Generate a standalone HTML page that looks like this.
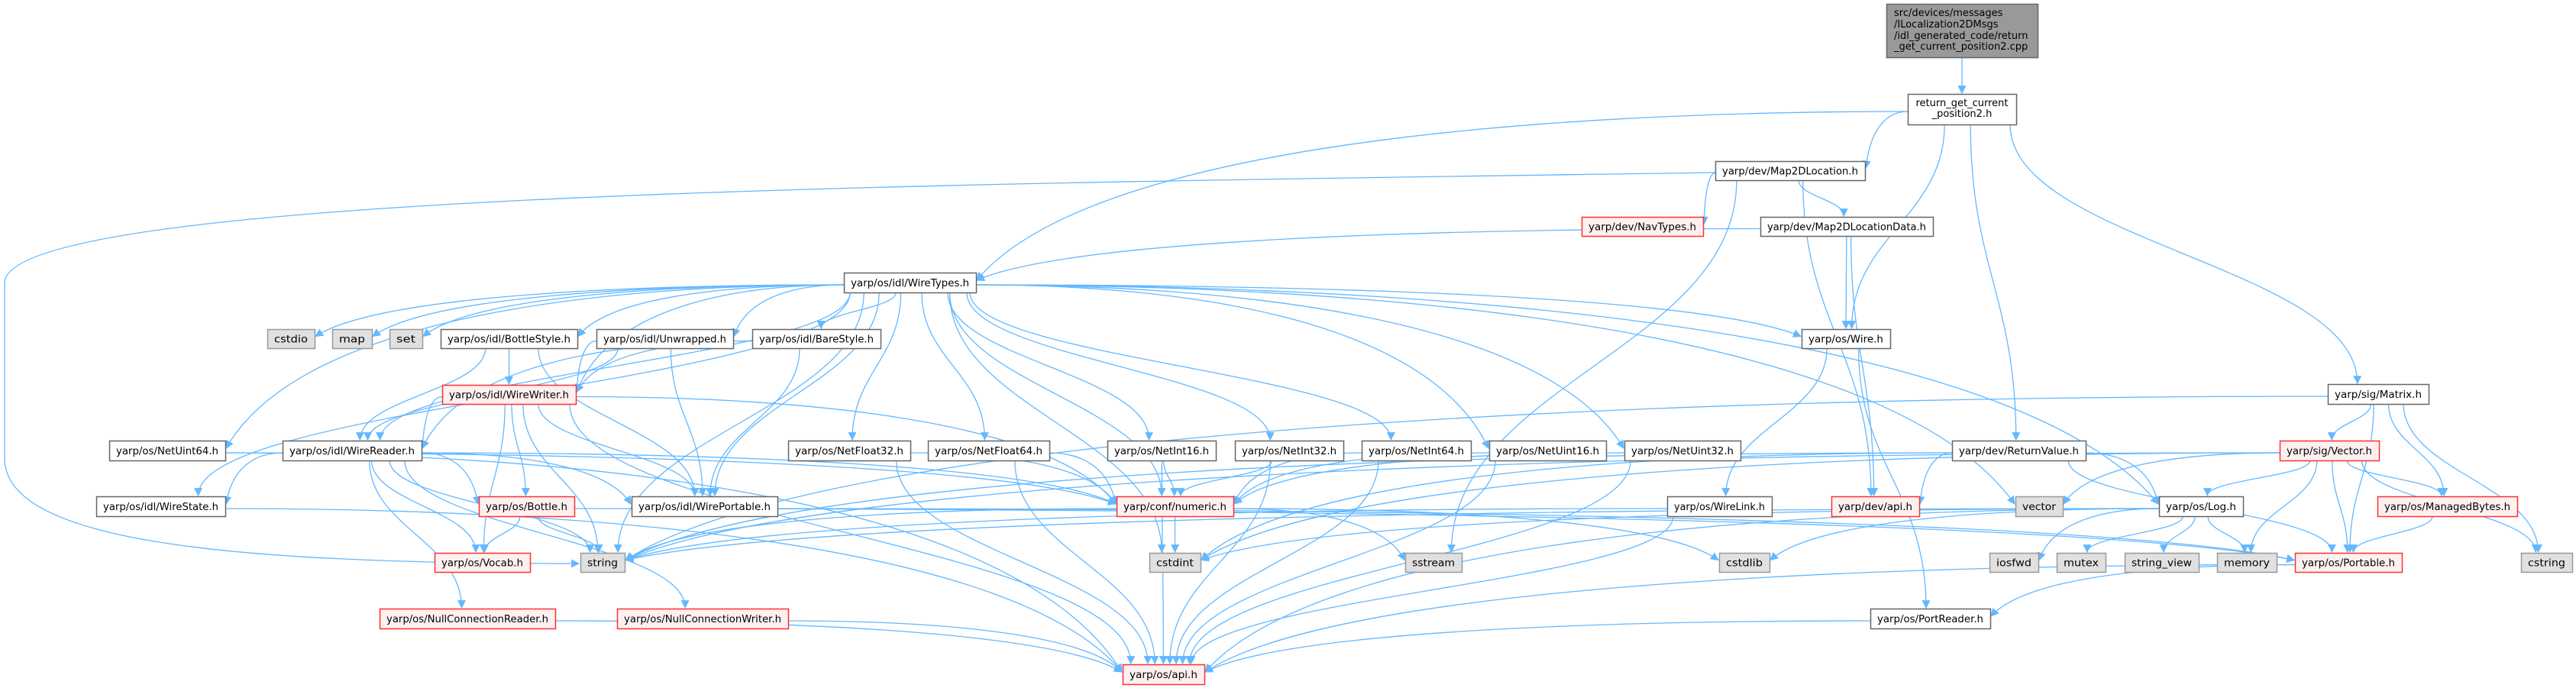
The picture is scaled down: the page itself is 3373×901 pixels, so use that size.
<!DOCTYPE html>
<html><head><meta charset="utf-8"><style>
html,body{margin:0;padding:0;background:#fff;}
svg{display:block;}
text{font-family:"DejaVu Sans","Liberation Sans",sans-serif;font-size:13px;fill:#000;}
</style></head><body>
<svg id="g" xmlns="http://www.w3.org/2000/svg" width="3373" height="901" viewBox="0 0 3373 901">
<defs><marker id="ah" viewBox="0 0 10 10" refX="9" refY="5" markerWidth="11" markerHeight="11" markerUnits="userSpaceOnUse" orient="auto"><path d="M0,0 L10,5 L0,10 z" fill="#63b8ff"/></marker></defs>
<g id="edges" fill="none" stroke="#63b8ff" stroke-width="1.3"></g>
<g id="nodes"></g>
</svg>
<div style="display:none" id="labels">
<span>src/devices/messages</span><span>/ILocalization2DMsgs</span><span>/idl_generated_code/return</span><span>_get_current_position2.cpp</span>
</div>
<script>
var N={
src:[2470,5,2668,75,'s',null],
ret:[2498,123,2640,163,'n',null],
m2d:[2246,211,2442,236,'n','yarp/dev/Map2DLocation.h'],
nav:[2071,284,2230,309,'r','yarp/dev/NavTypes.h'],
m2dd:[2305,284,2531,309,'n','yarp/dev/Map2DLocationData.h'],
wt:[1105,357,1278,383,'n','yarp/os/idl/WireTypes.h'],
cstdio:[350,431,412,456,'g','cstdio'],
map:[435,431,487,456,'g','map'],
set:[510,431,553,456,'g','set'],
bs:[577,431,756,456,'n','yarp/os/idl/BottleStyle.h'],
un:[781,431,960,456,'n','yarp/os/idl/Unwrapped.h'],
bare:[985,431,1153,456,'n','yarp/os/idl/BareStyle.h'],
wire:[2359,431,2475,456,'n','yarp/os/Wire.h'],
mat:[3048,503,3180,529,'n','yarp/sig/Matrix.h'],
ww:[579,504,754,529,'r','yarp/os/idl/WireWriter.h'],
nu64:[143,577,295,603,'n','yarp/os/NetUint64.h'],
wr:[370,577,552,603,'n','yarp/os/idl/WireReader.h'],
nf32:[1032,577,1192,603,'n','yarp/os/NetFloat32.h'],
nf64:[1215,577,1374,603,'n','yarp/os/NetFloat64.h'],
ni16:[1450,577,1592,603,'n','yarp/os/NetInt16.h'],
ni32:[1617,577,1759,603,'n','yarp/os/NetInt32.h'],
ni64:[1783,577,1926,603,'n','yarp/os/NetInt64.h'],
nu16:[1950,577,2103,603,'n','yarp/os/NetUint16.h'],
nu32:[2127,577,2279,603,'n','yarp/os/NetUint32.h'],
rv:[2556,577,2731,603,'n','yarp/dev/ReturnValue.h'],
vec:[2985,577,3115,603,'r','yarp/sig/Vector.h'],
ws:[126,650,295,676,'n','yarp/os/idl/WireState.h'],
bot:[627,650,752,676,'r','yarp/os/Bottle.h'],
wp:[827,650,1018,676,'n','yarp/os/idl/WirePortable.h'],
num:[1462,650,1615,676,'r','yarp/conf/numeric.h'],
wl:[2183,650,2320,676,'n','yarp/os/WireLink.h'],
dapi:[2398,650,2513,676,'r','yarp/dev/api.h'],
vector:[2639,650,2701,676,'g','vector'],
log:[2827,650,2937,676,'n','yarp/os/Log.h'],
mb:[3113,650,3296,676,'r','yarp/os/ManagedBytes.h'],
vocab:[569,724,694,749,'r','yarp/os/Vocab.h'],
string:[760,724,818,749,'g','string'],
cstdint:[1505,724,1572,749,'g','cstdint'],
sstream:[1840,724,1914,749,'g','sstream'],
cstdlib:[2251,724,2317,749,'g','cstdlib'],
iosfwd:[2605,724,2669,749,'g','iosfwd'],
mutex:[2693,724,2757,749,'g','mutex'],
sv:[2782,724,2879,749,'g','string_view'],
memory:[2903,724,2981,749,'g','memory'],
port:[3005,724,3145,749,'r','yarp/os/Portable.h'],
cstring:[3301,724,3368,749,'g','cstring'],
ncr:[497,797,727,823,'r','yarp/os/NullConnectionReader.h'],
ncw:[808,797,1032,823,'r','yarp/os/NullConnectionWriter.h'],
pr:[2449,797,2606,823,'n','yarp/os/PortReader.h'],
api:[1470,870,1577,896,'r','yarp/os/api.h']
};
var E="src>ret ret>m2d ret>wt ret>wire ret>rv ret>mat m2d>nav m2d>m2dd m2d>dapi m2d>sstream m2dd>wt m2dd>wire m2dd>dapi "+
"wt>cstdio wt>map wt>set wt>bs wt>un wt>bare wt>ww wt>wr wt>nu64 wt>ws wt>string wt>wp wt>nf32 wt>nf64 wt>ni16 wt>ni32 wt>ni64 wt>nu16 wt>nu32 wt>cstdint wt>vector wt>wire wt>log wt>num "+
"bs>ww bs>wr bs>wp un>ww un>wr un>wp bare>ww bare>wr bare>wp ww>wr ww>bot ww>vocab ww>string ww>wp ww>num ww>api "+
"wr>ws wr>bot wr>vocab wr>string wr>wp wr>num wr>ncr wr>ncw nu64>num nu64>api ws>api bot>vocab bot>string bot>port wp>port ncr>api ncw>api "+
"nf32>num nf32>api nf64>num nf64>api ni16>num ni16>api ni32>num ni32>api ni64>num ni64>api nu16>num nu16>api nu32>num nu32>api "+
"num>cstdint num>sstream num>cstdlib num>string wire>wl wire>pr wl>api wl>string rv>dapi rv>string rv>log rv>port rv>cstdint "+
"mat>vec mat>mb mat>port mat>cstring mat>string vec>vector vec>log vec>mb vec>port vec>memory vec>cstring vec>string vec>cstdint "+
"log>api log>iosfwd log>mutex log>sv log>memory log>string log>cstdint log>cstdlib mb>port port>pr port>api pr>api";
var NS="http://www.w3.org/2000/svg";
var ng=document.getElementById('nodes'),eg=document.getElementById('edges');
function el(t,a,p){var e=document.createElementNS(NS,t);for(var k in a)e.setAttribute(k,a[k]);p.appendChild(e);return e;}
var sty={n:['#ffffff','#666666'],r:['#fff0f0','#ff3030'],g:['#e0e0e0','#999999'],s:['#999999','#666666']};
for(var k in N){var d=N[k],s=sty[d[4]];
el('rect',{x:d[0]+.5,y:d[1]+.5,width:d[2]-d[0],height:d[3]-d[1],fill:s[0],stroke:s[1],'stroke-width':1.5},ng);
if(d[5]){var t=el('text',{x:(d[0]+d[2])/2,y:(d[1]+d[3])/2+5,'text-anchor':'middle',textLength:(d[2]-d[0]-18),lengthAdjust:'spacingAndGlyphs'},ng);t.textContent=d[5];}}
var L=[['ret',['return_get_current','_position2.h'],[139,153]],['src',['src/devices/messages','/ILocalization2DMsgs','/idl_generated_code/return','_get_current_position2.cpp'],[21,36,51,65]]];
L.forEach(function(q){var d=N[q[0]];q[1].forEach(function(s,i){var t=el('text',{x:q[0]=='src'?d[0]+10:(d[0]+d[2])/2,y:q[2][i],'text-anchor':q[0]=='src'?'start':'middle'},ng);t.textContent=s;});});
function cx(d){return (d[0]+d[2])/2;} function cy(d){return (d[1]+d[3])/2;}
E.split(' ').forEach(function(p){var a=p.split('>'),s=N[a[0]],t=N[a[1]];var path;
 var dx=cx(t)-cx(s),dy=t[1]-s[3];
 if(dy>8 && Math.abs(dx)<4*dy){
  var sx=cx(s)+Math.max(-(s[2]-s[0])/2+8,Math.min((s[2]-s[0])/2-8,dx*0.15));
  var tx=cx(t)-Math.max(-(t[2]-t[0])/2+8,Math.min((t[2]-t[0])/2-8,dx*0.05));
  var sy=s[3],ty=t[1]-1,h=(ty-sy)*0.45;
  path='M'+sx+','+sy+' C'+sx+','+(sy+h)+' '+tx+','+(ty-h)+' '+tx+','+ty;
 } else {
  var dir=dx<0?-1:1;
  var sx=dir<0?s[0]:s[2], sy=cy(s)+3;
  var tx=dir<0?t[2]+1:t[0]-1, ty=cy(t)-3;
  var m=Math.abs(tx-sx)*0.4;
  var up=Math.max(0,(ty-sy)*0.8);
  path='M'+sx+','+sy+' C'+(sx+dir*m)+','+sy+' '+(tx-dir*m*0.3)+','+(ty-up)+' '+tx+','+ty;
 }
 el('path',{d:path,'marker-end':'url(#ah)'},eg);});
el('path',{d:'M2246,226 C1300,240 10,250 6,370 L6,600 C6,710 300,738 758,738','marker-end':'url(#ah)'},eg);
</script>
</body></html>
